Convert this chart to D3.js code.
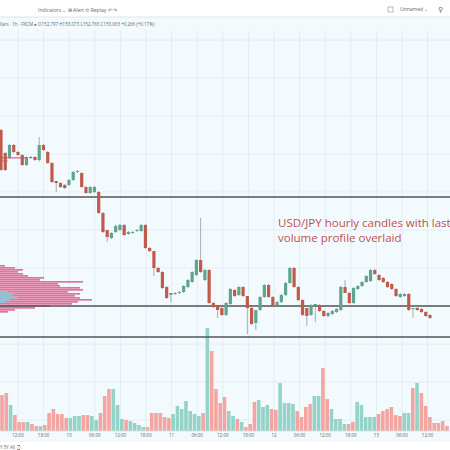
<!DOCTYPE html>
<html>
<head>
<meta charset="utf-8">
<script src="https://cdn.jsdelivr.net/npm/d3@7"></script>
<style>
  body { margin: 0; background: #fff; }
  svg { display: block; font-family: "Open Sans", sans-serif; }
</style>
</head>
<body>
<svg id="chart" width="450" height="450"></svg>
<script>
// hourly candles, open / close
const opens = [153.70,153.47,153.42,153.55,153.48,153.45,153.35,153.43,153.43,153.40,153.55,153.48,153.37,153.19,153.17,153.15,153.15,153.20,153.28,153.27,153.13,153.07,153.08,153.08,152.87,152.70,152.62,152.68,152.70,152.75,152.66,152.67,152.69,152.69,152.75,152.52,152.49,152.32,152.28,152.13,152.05,152.06,152.07,152.08,152.13,152.18,152.25,152.40,152.20,152.30,151.97,151.95,151.92,151.85,151.96,152.10,152.05,152.13,152.04,151.92,151.77,151.90,152.03,152.15,152.03,151.95,151.98,152.05,152.17,152.32,152.13,152.00,151.92,151.85,151.95,151.95,151.89,151.84,151.86,151.88,151.90,152.13,152.07,151.97,152.11,152.14,152.18,152.19,152.30,152.25,152.22,152.18,152.16,152.11,152.03,152.04,152.06,151.92,151.92,151.91,151.88,151.85];
const closes = [153.30,153.30,153.55,153.48,153.45,153.35,153.43,153.42,153.40,153.55,153.50,153.37,153.18,153.17,153.13,153.12,153.20,153.28,153.29,153.13,153.07,153.13,153.13,152.87,152.68,152.63,152.67,152.74,152.75,152.65,152.68,152.68,152.70,152.75,152.52,152.49,152.32,152.28,152.12,152.02,152.07,152.07,152.08,152.14,152.20,152.28,152.40,152.28,152.30,151.97,151.93,151.90,151.85,151.97,152.11,152.04,152.13,152.04,151.92,151.76,151.90,152.03,152.15,152.03,151.95,151.98,152.05,152.17,152.32,152.13,152.00,151.85,151.84,151.95,151.96,151.89,151.84,151.87,151.89,151.91,152.13,152.07,151.97,152.12,152.14,152.18,152.24,152.30,152.26,152.20,152.18,152.13,152.11,152.04,152.06,152.06,151.90,151.92,151.90,151.88,151.84,151.82];
// notable wicks: index -> [high, low]
const wicks = {9: [153.63, 153.38], 13: [153.19, 153.08], 25: [152.70, 152.58], 36: [152.49, 152.24], 40: [152.05, 151.98], 47: [152.82, 152.27], 51: [151.95, 151.82], 58: [152.04, 151.66], 60: [151.77, 151.70], 72: [151.92, 151.74], 74: [151.95, 151.78], 81: [152.20, 152.07], 97: [151.92, 151.82]};

// hourly volume (thousands)
const volumes = [36,38,26,16,9,9,9,7,5,5,6,18,22,17,17,13,13,15,15,16,16,15,11,18,35,42,42,26,12,11,10,8,6,4,4,18,18,18,14,13,17,25,22,30,20,17,15,18,103,80,42,28,34,20,15,12,9,4,7,29,31,24,26,22,21,48,28,28,27,20,14,24,27,35,35,63,32,22,12,12,7,7,9,29,26,14,14,14,17,20,22,24,16,15,18,18,43,48,38,25,14,8,8,10,5];

// last week's volume profile
const profPrice = [152.34,152.32,152.30,152.28,152.26,152.24,152.22,152.20,152.18,152.16,152.14,152.12,152.10,152.08,152.06,152.04,152.02,152.00,151.98,151.96,151.94,151.92,151.90,151.88];
const profVol = [5,15,23,18,23,28,44,40,83,58,60,80,83,68,80,75,80,92,78,72,50,35,15,8];
const profBuy = [0,0,0,0,0,0,0,0,0,0,0,0,0,8,14,12,18,10,6,0,0,0,0,0];
const profTopPrice = [153.42,153.39];
const profTopVol = [25,8];

const levels = [153.03, 151.94, 151.63];
const timeLabels = ["12:00","18:00","10","06:00","12:00","18:00","11","06:00","12:00","18:00","12","06:00","12:00","18:00","13","06:00","12:00"];

const up = "#5ea58d", dn = "#c25a4c";
const upV = "#93d3c8", dnV = "#f4a5a2";

const svg = d3.select("#chart");

// chart background
svg.append("rect").attr("x", 0).attr("y", 17).attr("width", 450).attr("height", 425).attr("fill", "#f3fafd");

const x = d3.scaleLinear().domain([0, 101]).range([1, 430]);
const xv = d3.scaleLinear().domain([0, 104]).range([2, 447]);
const y = d3.scalePoint ? d3.scaleLinear().domain([151.55, 153.95]).range([345, 105]) : null;
const yv = d3.scaleLinear().domain([0, 100]).range([431, 331]);

// grid
const g = svg.append("g");
timeLabels.forEach((t, i) => {
    const gx = 18 + i * 25.6;
    g.append("line").attr("x1", gx).attr("x2", gx).attr("y1", 30).attr("y2", 431)
        .attr("stroke", "#e1eef4").attr("stroke-width", 1);
});
d3.range(40, 431, 38).forEach(gy => {
    g.append("line").attr("x1", 0).attr("x2", 450).attr("y1", gy).attr("y2", gy)
        .attr("stroke", "#e1eef4").attr("stroke-width", 1);
});

// volume bars
svg.append("g").selectAll("rect").data(volumes).enter().append("rect")
    .attr("x", (d, i) => xv(i) - 1.8)
    .attr("width", 3.6)
    .attr("y", d => yv(d))
    .attr("height", d => yv(0) - yv(d))
    .attr("fill", (d, i) => {
        const j = Math.min(i, closes.length - 1);
        return closes[j] >= opens[j] ? upV : dnV;
    });

// volume profile
const prof = svg.append("g");
profVol.forEach((v, i) => {
    prof.append("rect").attr("x", 0).attr("y", y(profPrice[i]) - 1).attr("width", v).attr("height", 1.7).attr("fill", "#e3719c");
    if (profBuy[i]) prof.append("rect").attr("x", 0).attr("y", y(profPrice[i]) - 1).attr("width", profBuy[i]).attr("height", 1.7).attr("fill", "#6fd0dd");
});
profTopVol.forEach((v, i) => {
    prof.append("rect").attr("x", 0).attr("y", y(profTopPrice[i]) - 1).attr("width", v).attr("height", 1.7)
        .attr("fill", i ? "#f2b5cc" : "#e88aae");
});

// level lines
svg.append("g").selectAll("line").data(levels).enter().append("line")
    .attr("x1", 0).attr("x2", 450)
    .attr("y1", d => y(d)).attr("y2", d => y(d))
    .attr("stroke", "#555").attr("stroke-width", 1.3);

// candles
const c = svg.append("g");
opens.forEach((o, i) => {
    const cl = closes[i];
    const col = cl >= o ? up : dn;
    const w = wicks[i] || [Math.max(o, cl) + 0.01, Math.min(o, cl) - 0.01];
    c.append("line").attr("x1", x(i)).attr("x2", x(i)).attr("y1", y(w[0])).attr("y2", y(w[1]))
        .attr("stroke", "#8a8a8a").attr("stroke-width", 0.7);
    c.append("rect").attr("x", x(i) - 1.6).attr("width", 3.2)
        .attr("y", y(Math.max(o, cl)))
        .attr("height", Math.max(1, Math.abs(y(o) - y(cl))))
        .attr("fill", col);
});

// annotation
const note = svg.append("text").attr("x", 278).attr("y", 227).attr("fill", "#c0504d").attr("font-size", 11.5);
note.append("tspan").attr("x", 278).text("USD/JPY hourly candles with last week's");
note.append("tspan").attr("x", 278).attr("dy", 15).text("volume profile overlaid");

// toolbar
svg.append("rect").attr("x", 0).attr("y", 0).attr("width", 450).attr("height", 17).attr("fill", "#fff");
svg.append("line").attr("x1", 0).attr("x2", 450).attr("y1", 17).attr("y2", 17).attr("stroke", "#e4e4e4");
const tb = svg.append("g").attr("font-size", 5).attr("fill", "#666");
tb.append("text").attr("x", 38).attr("y", 12).text("Indicators  ⌄   ⊞    Alert   ⟲ Replay    ↶   ↷");
tb.append("rect").attr("x", 388).attr("y", 7).attr("width", 5).attr("height", 5).attr("fill", "none").attr("stroke", "#777").attr("stroke-width", 0.5);
tb.append("text").attr("x", 400).attr("y", 11).text("Unnamed  ⌄");
tb.append("text").attr("x", 438).attr("y", 12).attr("font-size", 7).text("⚲");
tb.append("text").attr("x", 0).attr("y", 26).attr("font-size", 4.5)
    .text("llars · 1h · FXCM  ●  O152.797 H153.073 L152.763 C153.063 +0.266 (+0.17%)");

// time axis
svg.append("line").attr("x1", 0).attr("x2", 450).attr("y1", 431).attr("y2", 431).attr("stroke", "#ddd");
svg.append("g").selectAll("text").data(timeLabels).enter().append("text")
    .attr("x", (d, i) => 18 + i * 25.6).attr("y", 437).attr("text-anchor", "middle")
    .attr("font-size", 4.5).attr("fill", "#666").text(d => d);
svg.append("rect").attr("x", 0).attr("y", 442).attr("width", 450).attr("height", 8).attr("fill", "#fff");
svg.append("text").attr("x", 0).attr("y", 449).attr("font-size", 4.5).attr("fill", "#666").text("Y   5Y   All      ⌚");
</script>
</body>
</html>
